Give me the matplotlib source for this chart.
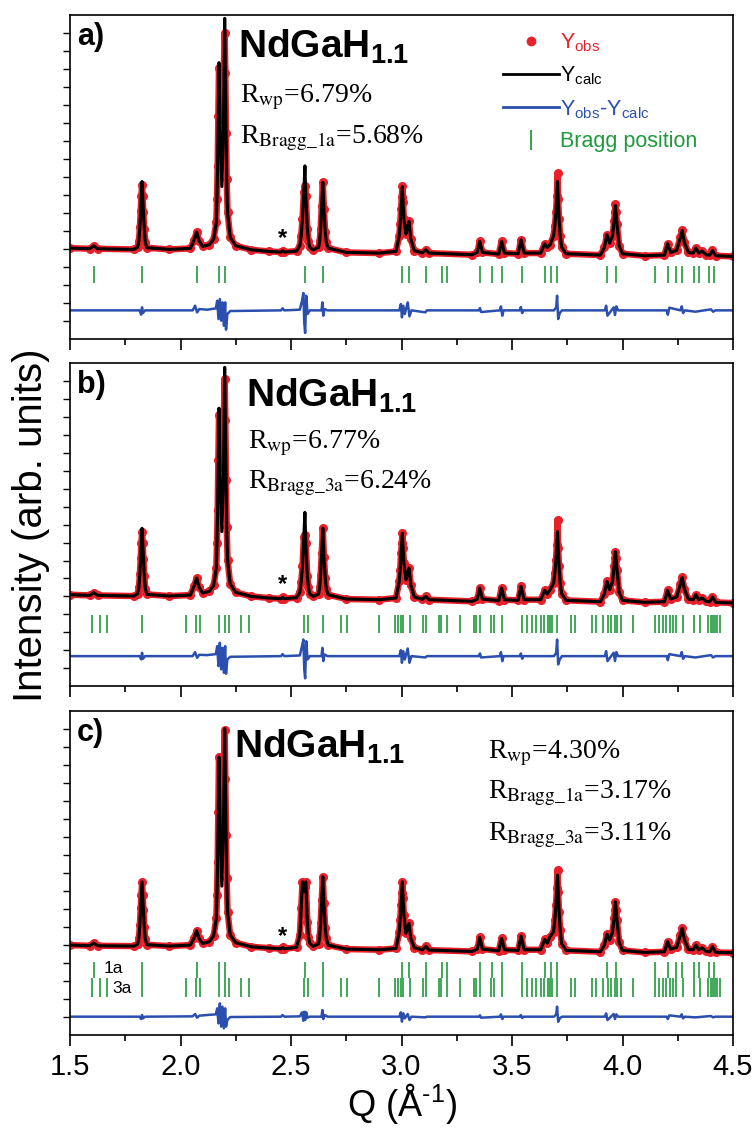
import numpy as np
import matplotlib
matplotlib.use("Agg")
import matplotlib.pyplot as plt
from matplotlib.lines import Line2D
from matplotlib.ticker import MultipleLocator

plt.rcParams["font.family"] = ["Liberation Sans", "DejaVu Sans"]
plt.rcParams["mathtext.fontset"] = "custom"
plt.rcParams["mathtext.rm"] = "Liberation Sans"
plt.rcParams["mathtext.bf"] = "Liberation Sans:bold"
plt.rcParams["mathtext.it"] = "Liberation Sans:italic"

# Q grid of the traced profile (1/A)
q_profile = [
    1.500, 1.590, 1.607, 1.625, 1.790,
    1.806, 1.812, 1.816, 1.820, 1.823, 1.826, 1.829, 1.832, 1.836, 1.841, 1.848,
    1.950, 2.045, 2.062, 2.073, 2.084, 2.100, 2.130, 2.150,
    2.162, 2.165, 2.168, 2.171, 2.174, 2.180, 2.187, 2.194, 2.200, 2.203, 2.206, 2.209, 2.213,
    2.225, 2.250, 2.320, 2.400, 2.455, 2.462, 2.470, 2.525,
    2.540, 2.546, 2.552, 2.558, 2.563, 2.567, 2.574, 2.579, 2.585,
    2.600,
    2.625, 2.630, 2.634, 2.639, 2.644, 2.649, 2.655, 2.660, 2.668,
    2.750, 2.900, 2.975,
    2.990, 2.994, 2.998, 3.001, 3.004, 3.007, 3.011, 3.020, 3.027, 3.034, 3.042, 3.058,
    3.095, 3.110, 3.125, 3.320, 3.343, 3.354, 3.366, 3.440, 3.453, 3.466, 3.528, 3.541,
    3.555, 3.630, 3.648, 3.660, 3.672,
    3.688, 3.694, 3.699, 3.703, 3.706, 3.709, 3.713, 3.718, 3.725, 3.745,
    3.900, 3.918, 3.930, 3.942,
    3.955, 3.962, 3.965, 3.968, 3.971, 3.975, 3.985, 4.000,
    4.100, 4.190, 4.204, 4.218, 4.245, 4.262, 4.270, 4.280, 4.298, 4.320, 4.332, 4.345,
    4.360, 4.378, 4.395, 4.407, 4.422, 4.500,
]

# calculated intensity, panel a (NdGaH1.1, phase 1a)
calc_a = [
    27.3, 27.1, 28.0, 27.1, 26.9,
    27.6, 29.5, 33.5, 38.5, 43.0, 47.3, 43.0, 38.0, 33.0, 29.0, 27.4,
    26.9, 27.2, 29.8, 32.1, 29.5, 27.8, 28.3, 30.0,
    35.0, 42.0, 52.0, 67.0, 83.0, 62.0, 45.8, 62.0, 96.3, 80.0, 62.0, 48.0, 38.0,
    30.5, 28.0, 26.8, 26.3, 26.1, 26.5, 26.1, 26.4,
    28.0, 31.0, 36.0, 44.0, 52.0, 43.0, 33.0, 29.5, 27.5,
    26.8,
    27.5, 29.5, 33.0, 40.0, 47.0, 39.0, 32.0, 29.0, 27.3,
    26.0, 25.8, 26.3,
    31.0, 34.5, 39.0, 42.5, 45.8, 41.0, 36.0, 31.5, 33.5, 35.3, 30.0, 26.5,
    25.9, 26.8, 25.8, 25.3, 26.0, 29.3, 26.0, 25.5, 29.3, 25.8, 25.6, 29.8,
    25.8, 25.8, 28.6, 27.5, 28.3,
    31.0, 34.0, 38.0, 43.0, 47.3, 42.0, 36.0, 31.0, 27.5, 25.6,
    25.2, 27.5, 31.3, 28.8,
    31.0, 35.5, 38.0, 40.1, 38.0, 34.5, 28.0, 25.6,
    25.0, 25.2, 28.6, 26.0, 26.6, 30.5, 32.6, 29.0, 26.0, 25.8, 27.3, 25.8,
    26.4, 25.3, 25.2, 26.6, 25.0, 24.8,
]

# panel b (phase 3a)
calc_b = [
    27.5, 27.3, 28.1, 27.3, 27.1,
    27.8, 29.7, 33.7, 38.7, 43.2, 47.5, 43.2, 38.2, 33.2, 29.2, 27.6,
    27.1, 27.4, 30.2, 32.5, 29.8, 28.0, 28.5, 30.3,
    35.5, 43.0, 53.0, 68.0, 83.7, 62.0, 46.5, 62.0, 96.0, 80.0, 62.0, 48.0, 38.0,
    30.7, 28.2, 27.0, 26.5, 26.3, 26.7, 26.3, 26.6,
    28.2, 31.2, 36.0, 45.0, 52.3, 43.0, 33.0, 29.7, 27.7,
    27.0,
    27.7, 29.7, 33.5, 40.0, 47.5, 39.0, 32.5, 29.2, 27.5,
    26.2, 26.0, 26.5,
    31.5, 35.0, 40.0, 43.0, 46.0, 41.5, 37.0, 32.0, 34.0, 35.5, 30.5, 26.8,
    26.1, 27.0, 26.0, 25.5, 26.2, 29.5, 26.2, 25.7, 29.5, 26.0, 25.8, 30.0,
    26.0, 26.0, 28.8, 27.7, 29.0,
    31.0, 34.0, 38.0, 42.5, 46.5, 41.5, 36.0, 31.0, 27.7, 25.8,
    25.4, 27.7, 31.5, 29.0,
    31.5, 36.0, 38.5, 40.5, 38.5, 35.0, 28.2, 25.8,
    25.2, 25.4, 28.8, 26.2, 26.8, 30.7, 32.7, 29.2, 26.2, 26.0, 27.5, 26.0,
    26.5, 25.5, 25.4, 26.8, 25.2, 25.0,
]

# panel c (two-phase fit)
calc_c = [
    27.0, 26.8, 27.6, 26.8, 26.7,
    27.3, 29.2, 33.0, 38.0, 42.0, 46.0, 42.0, 37.5, 32.5, 28.7, 27.1,
    26.7, 27.0, 29.2, 31.3, 29.0, 27.5, 28.0, 29.8,
    35.0, 42.0, 52.0, 67.0, 83.5, 62.0, 44.7, 62.0, 92.0, 77.0, 60.0, 47.0, 37.0,
    30.0, 27.7, 26.5, 26.1, 25.9, 26.3, 25.9, 26.3,
    30.0, 38.0, 46.0, 43.0, 44.5, 46.0, 34.0, 29.5, 27.5,
    26.6,
    27.4, 29.7, 33.5, 40.5, 47.5, 39.5, 32.0, 29.0, 27.0,
    25.8, 25.6, 26.0,
    31.0, 34.5, 39.0, 42.5, 46.0, 41.0, 36.0, 30.5, 32.0, 33.5, 29.0, 26.2,
    25.6, 26.6, 25.5, 25.1, 25.8, 29.3, 25.8, 25.3, 29.0, 25.6, 25.4, 29.7,
    25.6, 25.6, 28.7, 27.6, 29.5,
    31.0, 34.5, 39.0, 44.0, 48.0, 43.0, 37.0, 31.5, 27.3, 25.4,
    25.0, 27.0, 30.3, 28.5,
    31.0, 35.0, 37.5, 40.0, 37.5, 34.5, 27.8, 25.4,
    24.8, 25.0, 28.0, 25.8, 26.3, 30.0, 32.0, 28.7, 25.7, 25.6, 27.0, 25.6,
    26.2, 25.1, 25.0, 26.5, 24.8, 24.7,
]

# observed points that sit off the calculated curve (Q, intensity)
obs_q_a = [1.826, 2.174, 2.180, 2.187, 2.194, 2.200, 2.563, 3.706, 3.968]
obs_y_a = [46.3, 81.3, 74.0, 66.0, 76.0, 91.8, 45.8, 49.8, 40.5]
obs_q_b = [1.826, 2.174, 2.180, 2.187, 2.194, 2.200, 2.563, 3.706]
obs_y_b = [46.5, 81.5, 74.0, 66.0, 76.0, 92.5, 45.5, 50.0]
obs_q_c = [2.180, 2.187, 2.194, 2.200, 3.706]
obs_y_c = [74.0, 64.0, 75.0, 91.5, 49.5]

# difference curves
q_diff = [
    1.500, 1.815, 1.822, 1.826, 1.830, 1.840, 2.055, 2.066, 2.075, 2.085,
    2.120, 2.160, 2.166, 2.172, 2.178, 2.184, 2.190, 2.196, 2.202, 2.206,
    2.212, 2.225, 2.455, 2.462, 2.470, 2.540, 2.550, 2.556, 2.560, 2.564,
    2.569, 2.575, 2.585, 2.638, 2.642, 2.646, 2.652, 2.665, 2.990, 2.997,
    3.002, 3.008, 3.015, 3.028, 3.036, 3.045, 3.108, 3.115, 3.350, 3.355,
    3.360, 3.445, 3.450, 3.456, 3.462, 3.535, 3.540, 3.546, 3.552, 3.690,
    3.700, 3.704, 3.709, 3.716, 3.726, 3.920, 3.926, 3.932, 3.960, 3.966,
    3.972, 3.980, 4.200, 4.205, 4.212, 4.262, 4.268, 4.274, 4.282, 4.330,
    4.400, 4.410, 4.420, 4.500,
]
diff_a = [
    8.6, 8.6, 7.3, 9.5, 7.8, 8.6, 8.6, 10.0, 8.0, 9.0,
    8.8, 9.2, 11.5, 6.0, 12.0, 5.5, 11.0, 4.0, 11.0, 2.8,
    7.5, 8.4, 8.6, 9.2, 8.6, 8.8, 11.5, 13.8, 5.0, 1.8,
    13.0, 7.5, 8.6, 8.6, 11.0, 7.0, 9.0, 8.6, 8.6, 10.5,
    6.5, 10.0, 7.5, 11.0, 6.8, 8.6, 8.0, 8.6, 8.6, 9.3,
    8.1, 8.6, 9.8, 7.0, 8.6, 8.6, 9.6, 7.8, 8.6, 8.6,
    9.5, 13.0, 6.0, 7.8, 8.6, 8.6, 10.0, 7.0, 9.5, 7.2,
    9.8, 8.6, 8.6, 7.3, 9.4, 8.6, 9.8, 7.8, 8.6, 8.2,
    8.9, 8.2, 8.6, 8.6,
]
diff_b = [
    9.0, 9.0, 8.0, 10.0, 8.2, 9.0, 9.0, 10.2, 8.5, 9.4,
    9.3, 9.6, 12.0, 6.0, 13.0, 5.0, 11.5, 4.0, 12.0, 3.7,
    8.0, 8.8, 9.0, 9.6, 9.0, 9.2, 12.0, 14.0, 5.0, 2.3,
    13.5, 8.0, 9.0, 9.0, 11.5, 7.5, 9.5, 9.0, 9.0, 10.8,
    7.0, 10.5, 8.0, 11.3, 7.0, 9.0, 8.6, 9.0, 9.0, 9.8,
    8.6, 9.0, 10.2, 7.5, 9.0, 9.0, 9.8, 8.2, 9.0, 9.0,
    10.0, 14.0, 6.5, 8.0, 9.0, 9.0, 10.5, 7.5, 10.0, 7.5,
    10.2, 9.0, 9.0, 7.8, 9.6, 9.0, 10.2, 8.2, 9.0, 8.6,
    9.3, 8.6, 9.0, 9.0,
]
diff_c = [
    5.5, 5.5, 4.8, 6.0, 5.0, 5.5, 5.6, 6.3, 5.2, 5.8,
    6.0, 6.2, 8.0, 3.5, 9.5, 2.5, 8.5, 2.0, 8.0, 2.5,
    4.5, 5.4, 5.5, 6.0, 5.5, 5.6, 6.8, 4.3, 7.0, 4.5,
    6.8, 5.2, 5.5, 5.5, 7.5, 4.8, 6.0, 5.5, 5.5, 6.8,
    4.0, 6.5, 5.0, 6.3, 4.5, 5.5, 5.3, 5.5, 5.5, 5.9,
    5.2, 5.5, 6.2, 4.8, 5.5, 5.5, 6.0, 5.1, 5.5, 5.5,
    6.2, 8.5, 4.0, 5.0, 5.5, 5.5, 6.5, 4.5, 6.3, 4.8,
    6.2, 5.5, 5.5, 4.8, 5.9, 5.5, 6.2, 5.0, 5.5, 5.3,
    5.7, 5.3, 5.5, 5.5,
]

# Bragg reflection positions of the two phases
bragg_1a = [
    1.607, 1.826, 2.073, 2.174, 2.200, 2.562, 2.643, 3.003, 3.033, 3.110,
    3.181, 3.207, 3.357, 3.408, 3.454, 3.543, 3.650, 3.677, 3.705, 3.932,
    3.970, 4.146, 4.207, 4.243, 4.269, 4.324, 4.344, 4.393, 4.413,
]
bragg_3a = [
    1.601, 1.634, 1.668, 1.826, 2.026, 2.068, 2.087, 2.174, 2.200, 2.220,
    2.275, 2.309, 2.558, 2.578, 2.643, 2.726, 2.754, 2.898, 2.969, 2.983,
    2.997, 3.009, 3.038, 3.098, 3.110, 3.171, 3.179, 3.205, 3.266, 3.327,
    3.337, 3.357, 3.404, 3.418, 3.454, 3.543, 3.570, 3.590, 3.610, 3.630,
    3.644, 3.661, 3.671, 3.681, 3.705, 3.766, 3.786, 3.863, 3.879, 3.913,
    3.934, 3.948, 3.964, 3.974, 3.994, 4.049, 4.146, 4.166, 4.183, 4.199,
    4.213, 4.227, 4.243, 4.272, 4.324, 4.349, 4.389, 4.399, 4.409, 4.419,
    4.429, 4.439,
]

assert len(calc_a) == len(calc_b) == len(calc_c) == len(q_profile)
assert len(diff_a) == len(diff_b) == len(diff_c) == len(q_diff)

RED = "#e8202a"
BLUE = "#2b4fae"
GREEN = "#1f9a3c"

fig = plt.figure(figsize=(7.54, 11.36), dpi=100)
W, H = 754, 1136
left, width = 70 / W, 663 / W
ax_a = fig.add_axes([left, 1 - 339 / H, width, 324 / H])
ax_b = fig.add_axes([left, 1 - 686 / H, width, 323 / H])
ax_c = fig.add_axes([left, 1 - 1035 / H, width, 324 / H])


def draw_panel(ax, calc, obs_q, obs_y, diff):
    q = np.array(q_profile)
    obs = np.array(calc, dtype=float)
    for qq, vv in zip(obs_q, obs_y):
        obs[np.argmin(np.abs(q - qq))] = vv
    ax.plot(q, obs, color=RED, lw=4.6, marker="o", ms=5.5, zorder=2)
    ax.plot(q, calc, color="black", lw=2.2, zorder=3)
    ax.plot(q_diff, diff, color=BLUE, lw=1.8, zorder=2)

    ax.set_xlim(1.5, 4.5)
    ax.set_ylim(0, 97.3)
    ax.xaxis.set_major_locator(MultipleLocator(0.5))
    ax.xaxis.set_minor_locator(MultipleLocator(0.25))
    ax.set_yticks(np.arange(5.4, 97, 5.4))
    ax.set_yticklabels([])
    ax.tick_params(axis="x", which="major", direction="out", length=8, width=1.2,
                   labelsize=21, pad=5)
    ax.tick_params(axis="x", which="minor", direction="out", length=4.5, width=1.2)
    ax.tick_params(axis="y", direction="out", length=5, width=1.0)
    for sp in ax.spines.values():
        sp.set_linewidth(1.2)


draw_panel(ax_a, calc_a, obs_q_a, obs_y_a, diff_a)
draw_panel(ax_b, calc_b, obs_q_b, obs_y_b, diff_b)
draw_panel(ax_c, calc_c, obs_q_c, obs_y_c, diff_c)

ax_a.vlines(bragg_1a, 16.8, 21.8, color=GREEN, lw=1.2)
ax_b.vlines(bragg_3a, 16.0, 21.5, color=GREEN, lw=1.2)
ax_c.vlines(bragg_1a, 17.0, 22.0, color=GREEN, lw=1.2)
ax_c.vlines(bragg_3a, 11.5, 17.0, color=GREEN, lw=1.2)
ax_c.text(1.652, 20.0, "1a", fontsize=12.5, va="center", ha="left")
ax_c.text(1.690, 14.1, "3a", fontsize=12.5, va="center", ha="left")

for ax in (ax_a, ax_b):
    ax.set_xticklabels([])

# panel letters, compound and fit quality
for ax, letter in ((ax_a, "a)"), (ax_b, "b)"), (ax_c, "c)")):
    ax.text(0.010, 0.978, letter, transform=ax.transAxes, fontsize=22,
            fontweight="bold", va="top", ha="left")

formula = r"NdGaH$_{\mathbf{1.1}}$"
ax_a.text(0.253, 0.867, formula, transform=ax_a.transAxes, fontsize=28,
          fontweight="bold", va="baseline")
ax_b.text(0.265, 0.864, formula, transform=ax_b.transAxes, fontsize=28,
          fontweight="bold", va="baseline")
ax_c.text(0.248, 0.855, formula, transform=ax_c.transAxes, fontsize=28,
          fontweight="bold", va="baseline")

rkw = dict(fontsize=20, family="Liberation Serif", math_fontfamily="stix",
           va="baseline")
ax_a.text(0.256, 0.731, r"R$_{\mathrm{wp}}$=6.79%", transform=ax_a.transAxes, **rkw)
ax_a.text(0.256, 0.605, r"R$_{\mathrm{Bragg\_1a}}$=5.68%", transform=ax_a.transAxes, **rkw)
ax_b.text(0.268, 0.737, r"R$_{\mathrm{wp}}$=6.77%", transform=ax_b.transAxes, **rkw)
ax_b.text(0.268, 0.613, r"R$_{\mathrm{Bragg\_3a}}$=6.24%", transform=ax_b.transAxes, **rkw)
ax_c.text(0.630, 0.855, r"R$_{\mathrm{wp}}$=4.30%", transform=ax_c.transAxes, **rkw)
ax_c.text(0.630, 0.731, r"R$_{\mathrm{Bragg\_1a}}$=3.17%", transform=ax_c.transAxes, **rkw)
ax_c.text(0.630, 0.602, r"R$_{\mathrm{Bragg\_3a}}$=3.11%", transform=ax_c.transAxes, **rkw)

for ax, ystar in ((ax_a, 30.3), (ax_b, 30.5), (ax_c, 29.5)):
    ax.text(2.461, ystar, "*", fontsize=17, fontweight="bold", ha="center", va="center")

# legend in panel a
handles = [
    Line2D([], [], color=RED, marker="o", ls="none", ms=6),
    Line2D([], [], color="black", lw=2),
    Line2D([], [], color=BLUE, lw=2),
    Line2D([], [], color=GREEN, marker="|", ls="none", ms=14, mew=1.3),
]
labels = [r"Y$_{\rm obs}$", r"Y$_{\rm calc}$", r"Y$_{\rm obs}$-Y$_{\rm calc}$", "Bragg position"]
leg = ax_a.legend(handles, labels, loc="upper left", bbox_to_anchor=(0.653, 0.950),
                  frameon=False, fontsize=15.5, handlelength=2.6, handletextpad=0.05,
                  labelspacing=0.5, borderpad=0, borderaxespad=0)
for txt, col in zip(leg.get_texts(), [RED, "black", BLUE, GREEN]):
    txt.set_color(col)

ax_c.set_xlabel("Q (Å$^{\\mathrm{\u2010}1}$)", fontsize=26, labelpad=0)
fig.text(31 / W, 1 - 525 / H, "Intensity (arb. units)", rotation=90, fontsize=29,
         ha="center", va="center")

fig.savefig("out.png", dpi=100, facecolor="white")
